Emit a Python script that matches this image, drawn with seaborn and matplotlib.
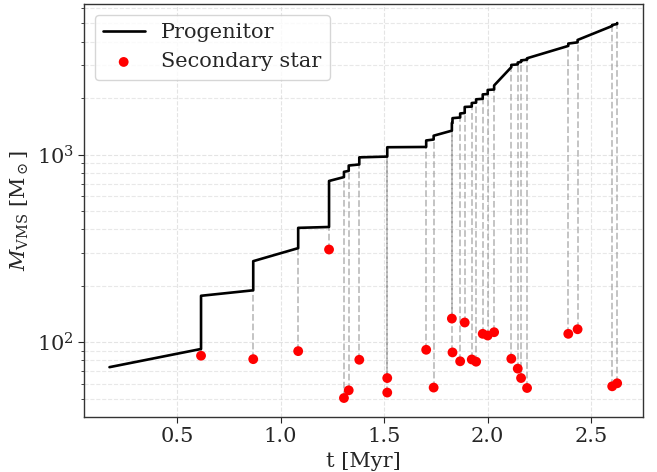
import numpy as np
import pandas as pd
import matplotlib
matplotlib.use("Agg")
import matplotlib.pyplot as plt
import seaborn as sns

# Merger events: time of each merger [Myr] and mass of the secondary star [Msun]
merge_times = [0.616, 0.868, 1.085, 1.234, 1.306, 1.329, 1.380, 1.515, 1.515,
               1.703, 1.739, 1.827, 1.830, 1.867, 1.889, 1.923, 1.944, 1.976,
               2.000, 2.031, 2.114, 2.145, 2.161, 2.190, 2.389, 2.434, 2.601, 2.625]
secondary_mass = [84.7, 81.2, 89.6, 311.7, 50.4, 55.4, 80.6, 64.4, 53.9,
                  91.1, 57.3, 133.6, 88.2, 79.1, 127.3, 80.9, 78.7, 110.8,
                  108.5, 113.0, 81.6, 72.3, 64.4, 57.0, 110.8, 117.2, 58.2, 60.4]

# Progenitor mass at the start and just before each (distinct) merger time
t_start, m_start = 0.174, 73.6
pre_times = [0.616, 0.868, 1.085, 1.234, 1.306, 1.329, 1.380, 1.515, 1.703,
             1.739, 1.827, 1.830, 1.867, 1.889, 1.923, 1.944, 1.976, 2.000,
             2.031, 2.114, 2.145, 2.161, 2.190, 2.389, 2.434, 2.601, 2.625]
pre_mass = [92.0, 189.0, 317.0, 411.0, 758.0, 818.0, 885.0, 975.0, 1097.0,
            1202.0, 1340.0, 1474.0, 1575.0, 1665.0, 1800.0, 1890.0, 1980.0, 2100.0,
            2220.0, 2920.0, 3020.0, 3110.0, 3200.0, 3790.0, 3960.0, 4840.0, 4960.0]

sec = pd.DataFrame({"t": merge_times, "m": secondary_mass})
gained = sec.groupby("t")["m"].sum()

# Progenitor track: steady growth between mergers, vertical jump at each merger
track_t = [t_start]
track_m = [m_start]
for t, m in zip(pre_times, pre_mass):
    track_t += [t, t]
    track_m += [m, m + gained.loc[t]]
prog = pd.DataFrame({"t": track_t, "m": track_m})
pre_lookup = dict(zip(pre_times, pre_mass))

sns.set_style("white")
plt.rcParams["font.family"] = ["DejaVu Serif"]
plt.rcParams["mathtext.fontset"] = "dejavuserif"
plt.rcParams["font.size"] = 15

fig, ax = plt.subplots(figsize=(6.57, 4.72), dpi=100)
fig.subplots_adjust(left=0.128, right=0.978, bottom=0.117, top=0.991)

# Connectors from each secondary star up to the progenitor at the merger time
for t, m in zip(merge_times, secondary_mass):
    ax.plot([t, t], [m, pre_lookup[t]], ls="--", color="gray", alpha=0.5,
            lw=1.3, zorder=1)

sns.lineplot(data=prog, x="t", y="m", sort=False, estimator=None, color="black",
             lw=1.9, label="Progenitor", ax=ax, zorder=3)
sns.scatterplot(data=sec, x="t", y="m", color="red", s=50, edgecolor="none",
                label="Secondary star", ax=ax, zorder=4)

ax.set_yscale("log")
ax.margins(x=0.05, y=0.05)
ax.set_xlabel("t [Myr]", fontsize=15)
ax.set_ylabel(r"$M_{\rm VMS}$ [M$_\odot$]", fontsize=15)
ax.tick_params(axis="both", which="major", labelsize=15, length=4,
               direction="out", bottom=True, left=True)
ax.tick_params(axis="y", which="minor", length=2, left=True)
ax.grid(True, which="major", ls="--", color="lightgray", alpha=0.6, lw=0.8)
ax.grid(True, which="minor", axis="y", ls="--", color="lightgray", alpha=0.5, lw=0.8)
for s in ax.spines.values():
    s.set_color("#333333")
    s.set_linewidth(1.0)

ax.legend(loc="upper left", fontsize=15, frameon=True)

fig.savefig("out.png", dpi=100)
